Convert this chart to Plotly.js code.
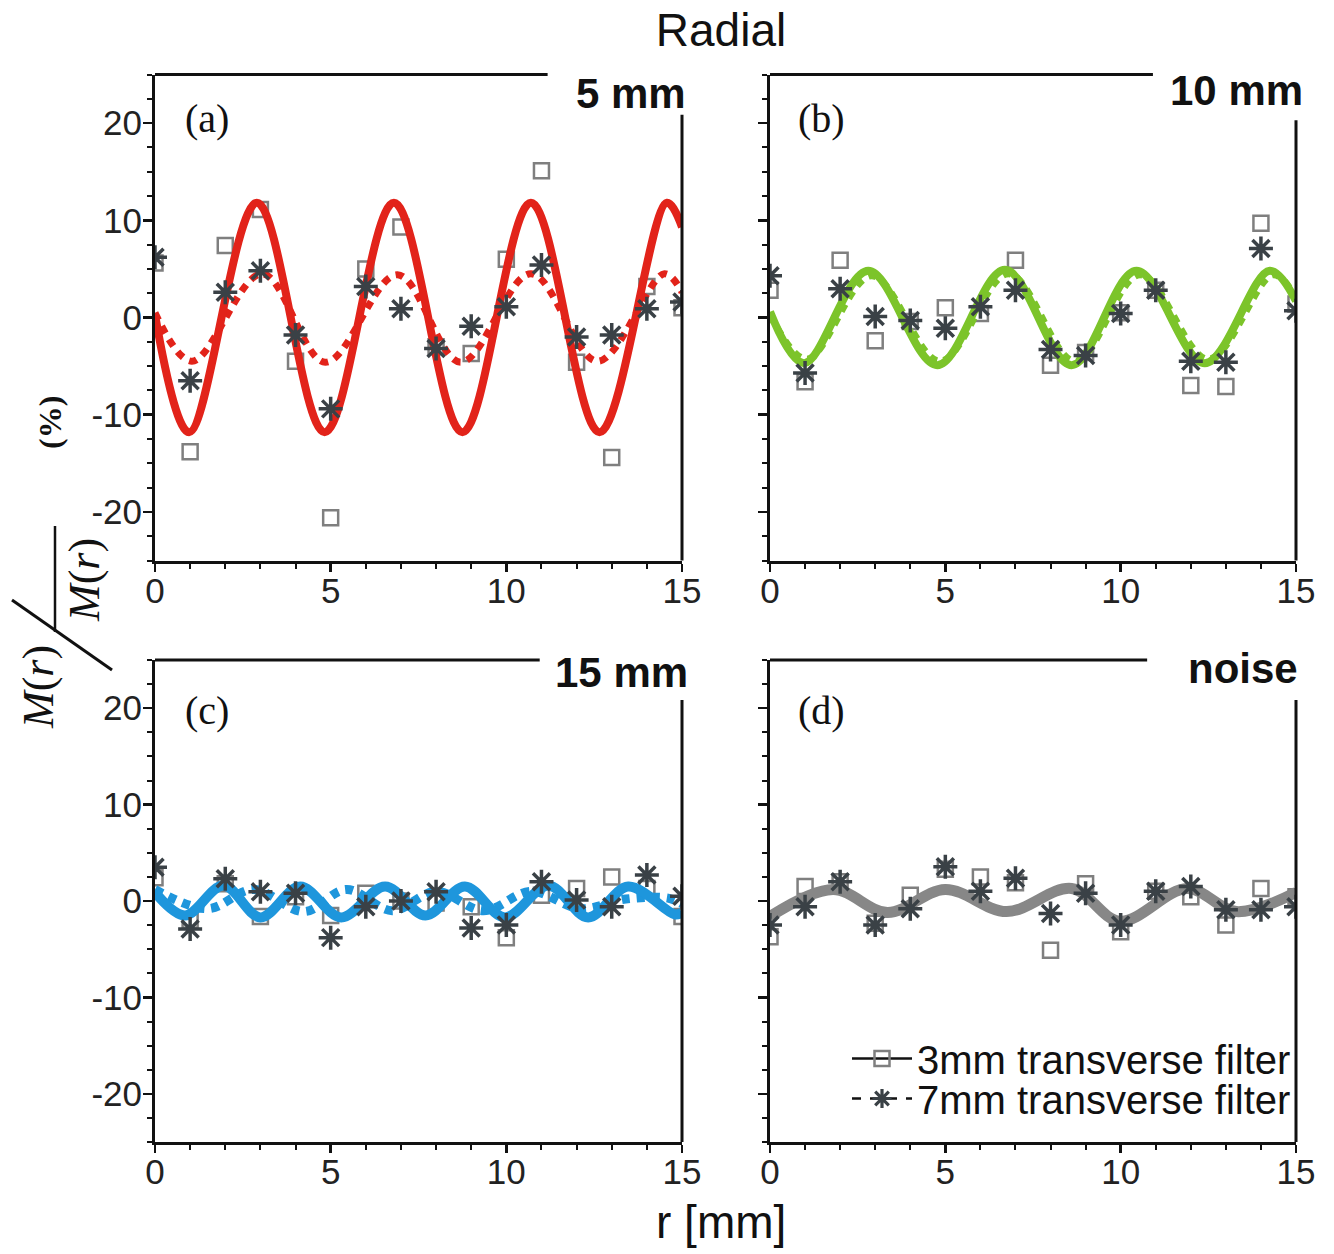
<!DOCTYPE html>
<html>
<head>
<meta charset="utf-8">
<script src="https://cdn.plot.ly/plotly-3.0.1.min.js"></script>
<style>html,body{margin:0;padding:0;background:#fff;}#chart{width:1334px;height:1254px;}</style>
</head>
<body>
<div id="chart"></div>
<script>
// ---- data ----
const r = [0,1,2,3,4,5,6,7,8,9,10,11,12,13,14,15];

// (a) 5 mm
const a3mm = [5.6,-13.8,7.4,11.1,-4.5,-20.6,5.0,9.3,-3.0,-3.7,6.0,15.1,-4.6,-14.4,3.2,1.0];
const a7mm = [6.2,-6.5,2.6,4.8,-1.8,-9.4,3.2,0.9,-3.2,-0.9,1.1,5.4,-2.0,-1.8,0.9,1.6];
const aSolidX = [0,0.97,2.9,4.83,6.8,8.75,10.7,12.65,14.57,15];
const aSolidY = [0.3,-11.8,11.8,-11.8,11.8,-11.8,11.8,-11.8,11.8,9.3];
const aDotX = [0,1.05,3.05,4.85,6.9,8.7,10.7,12.6,14.5,15];
const aDotY = [0.5,-4.5,4.5,-4.6,4.4,-4.6,4.5,-4.5,4.5,2.6];

// (b) 10 mm
const b3mm = [2.8,-6.6,5.9,-2.4,-0.4,1.0,0.4,5.9,-4.9,-3.6,0.5,2.8,-7.0,-7.1,9.7,1.4];
const b7mm = [4.3,-5.7,2.95,0.1,-0.3,-1.1,1.1,2.8,-3.3,-3.9,0.4,2.8,-4.5,-4.6,7.1,0.7];
const bSolidX = [0,0.97,2.8,4.77,6.7,8.6,10.45,12.4,14.25,15];
const bSolidY = [0.6,-4.7,4.8,-4.9,4.9,-4.9,4.8,-4.7,4.8,1.7];
const bDotX = [0,1.05,2.9,4.85,6.8,8.7,10.55,12.5,14.35,15];
const bDotY = [0.3,-4.3,4.3,-4.5,4.5,-4.5,4.4,-4.3,4.4,2.0];

// (c) 15 mm
const c3mm = [2.4,-2.0,1.8,-1.6,0.45,-1.5,0.8,0.0,-0.2,-0.6,-3.8,0.6,1.3,2.5,1.3,-1.6];
const c7mm = [3.5,-2.9,2.3,0.95,0.8,-3.8,-0.6,0.0,0.95,-2.8,-2.5,2.0,0.1,-0.6,2.7,0.5];
const cSolidX = [0,0.85,1.95,3.0,4.13,5.3,6.55,7.7,8.82,9.96,11.2,12.33,13.47,14.8,15];
const cSolidY = [0.9,-1.5,1.6,-1.7,1.5,-1.7,1.5,-1.5,1.5,-1.7,1.6,-1.7,1.5,-1.4,-1.2];
const cDotX = [0,1.5,2.8,4.25,5.45,6.75,8.0,9.35,10.7,12.1,13.4,14.6,15];
const cDotY = [1.2,-0.8,1.2,-1.1,1.2,-1.0,1.0,-1.0,1.0,-0.8,0.2,0.3,-0.3];

// (d) noise
const d3mm = [-3.7,1.5,2.0,-2.3,0.6,3.3,2.5,1.9,-5.1,1.8,-3.2,1.0,0.45,-2.5,1.3,0.45];
const d7mm = [-2.5,-0.6,2.0,-2.5,-0.8,3.55,1.0,2.35,-1.3,0.8,-2.5,1.0,1.5,-0.9,-0.9,-0.6];
const dSolidX = [0,1.8,3.35,5.0,6.75,8.6,9.98,11.9,13.3,15];
const dSolidY = [-1.6,1.2,-1.2,1.2,-1.1,1.3,-2.1,1.3,-1.1,0.9];

const yTickVals = [-20,-10,0,10,20];
const yTickText = ['-20','-10','0','10','20'];
const xTickVals = [0,5,10,15];
const xTickText = ['0','5','10','15'];
const legendNames = ['3mm transverse filter','7mm transverse filter'];
const panelTitles = ['5 mm','10 mm','15 mm','noise'];
const panelLetters = ['(a)','(b)','(c)','(d)'];

// ---- styling ----
const SANS = 'Liberation Sans, Arial, sans-serif';
const SERIF = 'Liberation Serif, Times New Roman, serif';
const SQ_COLOR = '#7f7f7f';
const ST_COLOR = '#3a4146';

const panels = [
  {xa:'x', ya:'y', p3:a3mm, p7:a7mm, solid:[aSolidX,aSolidY], dot:[aDotX,aDotY], color:'#e2231a', w:8},
  {xa:'x2', ya:'y2', p3:b3mm, p7:b7mm, solid:[bSolidX,bSolidY], dot:[bDotX,bDotY], color:'#7cc42a', w:8},
  {xa:'x3', ya:'y3', p3:c3mm, p7:c7mm, solid:[cSolidX,cSolidY], dot:[cDotX,cDotY], color:'#1e96dc', w:10},
  {xa:'x4', ya:'y4', p3:d3mm, p7:d7mm, solid:[dSolidX,dSolidY], dot:null, color:'#878787', w:11}
];

const traces = [];
panels.forEach(p => {
  traces.push({x:r, y:p.p3, xaxis:p.xa, yaxis:p.ya, mode:'markers', type:'scatter', showlegend:false,
    marker:{symbol:'square-open', size:15, color:SQ_COLOR, line:{color:SQ_COLOR, width:2.5}}});
  if (p.dot) traces.push({x:p.dot[0], y:p.dot[1], xaxis:p.xa, yaxis:p.ya, mode:'lines', type:'scatter', showlegend:false,
    line:{color:p.color, width:p.w-1, dash:'8px,7px', shape:'spline', smoothing:1}});
  traces.push({x:p.solid[0], y:p.solid[1], xaxis:p.xa, yaxis:p.ya, mode:'lines', type:'scatter', showlegend:false,
    line:{color:p.color, width:p.w, shape:'spline', smoothing:1}});
  traces.push({x:r, y:p.p7, xaxis:p.xa, yaxis:p.ya, mode:'markers', type:'scatter', showlegend:false,
    marker:{symbol:'asterisk-open', size:20, color:ST_COLOR, line:{color:ST_COLOR, width:3.5}}});
});
// legend-only entries
traces.push({x:[null], y:[null], xaxis:'x4', yaxis:'y4', mode:'lines+markers', type:'scatter', name:legendNames[0], legend:'legend',
  line:{color:'#111', width:2.5}, marker:{symbol:'square-open', size:15, color:SQ_COLOR, line:{color:SQ_COLOR, width:2.5}}});
traces.push({x:[null], y:[null], xaxis:'x4', yaxis:'y4', mode:'lines+markers', type:'scatter', name:legendNames[1], legend:'legend2',
  line:{color:'#111', width:2.5, dash:'dash'}, marker:{symbol:'asterisk-open', size:17, color:ST_COLOR, line:{color:ST_COLOR, width:3.2}}});

const W = 1334, H = 1254;
const px = v => v / W;
const py = v => 1 - v / H;

function xAxis(domain, anchor) {
  return {domain:domain, anchor:anchor, range:[0,15], tickmode:'array', tickvals:xTickVals, ticktext:xTickText,
    ticks:'outside', ticklen:8, tickwidth:2.5, tickcolor:'#111', ticklabelstandoff:-11,
    minor:{tickmode:'linear', tick0:0, dtick:1, ticks:'outside', ticklen:5, tickwidth:2, tickcolor:'#111', showgrid:false},
    showline:true, linewidth:3, linecolor:'#111', mirror:false, showgrid:false, zeroline:false,
    tickfont:{family:SANS, size:35, color:'#222'}, fixedrange:true};
}
function yAxis(domain, anchor, labels) {
  return {domain:domain, anchor:anchor, range:[-25,25], tickmode:'array', tickvals:yTickVals, ticktext:yTickText,
    showticklabels:labels, ticks:'outside', ticklen:9, tickwidth:2.5, tickcolor:'#111', ticklabelstandoff:-6,
    minor:{tickmode:'linear', tick0:0, dtick:2.5, ticks:'outside', ticklen:5, tickwidth:2, tickcolor:'#111', showgrid:false},
    showline:true, linewidth:3, linecolor:'#111', mirror:false, showgrid:false, zeroline:false,
    tickfont:{family:SANS, size:35, color:'#222'}, fixedrange:true};
}

const xL = [px(155), px(682)], xR = [px(770), px(1296)];
const yT = [py(560.5), py(74.5)], yB = [py(1142), py(660)];

// frame segments (top & right) broken by the panel title
const frames = [
  {xr:'x domain', yr:'y domain', topEnd:0.745, rightTop:0.917},
  {xr:'x2 domain', yr:'y2 domain', topEnd:0.728, rightTop:0.906},
  {xr:'x3 domain', yr:'y3 domain', topEnd:0.73, rightTop:0.917},
  {xr:'x4 domain', yr:'y4 domain', topEnd:0.717, rightTop:0.917}
];
const shapes = [];
frames.forEach(f => {
  shapes.push({type:'line', xref:f.xr, yref:f.yr, x0:0, x1:f.topEnd, y0:1, y1:1, line:{color:'#111', width:3}});
  shapes.push({type:'line', xref:f.xr, yref:f.yr, x0:1, x1:1, y0:0, y1:f.rightTop, line:{color:'#111', width:3}});
});
// y-label fraction decorations (slash and overline)
shapes.push({type:'line', xref:'paper', yref:'paper', x0:px(12), y0:py(600), x1:px(112), y1:py(670), line:{color:'#111', width:3}});
shapes.push({type:'line', xref:'paper', yref:'paper', x0:px(55), y0:py(526), x1:px(55), y1:py(632), line:{color:'#111', width:2.5}});

const annotations = [];
const titlePos = [[688,93],[1305,91],[690,672],[1300,668]];
const letterPos = [[207,118],[822,118],[207,710],[822,710]];
panelTitles.forEach((t,i) => {
  annotations.push({text:'<b>'+t+'</b>', xref:'paper', yref:'paper', x:px(titlePos[i][0]), y:py(titlePos[i][1]),
    xanchor:'right', yanchor:'middle', showarrow:false, font:{family:SANS, size:42, color:'#111'}});
  annotations.push({text:panelLetters[i], xref:'paper', yref:'paper', x:px(letterPos[i][0]), y:py(letterPos[i][1]),
    xanchor:'center', yanchor:'middle', showarrow:false, font:{family:SERIF, size:40, color:'#111'}});
});
annotations.push({text:'r [mm]', xref:'paper', yref:'paper', x:px(721), y:py(1222), xanchor:'center', yanchor:'middle',
  showarrow:false, font:{family:SANS, size:46, color:'#111'}});
annotations.push({text:'<b>(%)</b>', xref:'paper', yref:'paper', x:px(50), y:py(423), xanchor:'center', yanchor:'middle',
  textangle:-90, showarrow:false, font:{family:SERIF, size:32, color:'#111'}});
annotations.push({text:'<i>M</i>(<i>r</i>)', xref:'paper', yref:'paper', x:px(38), y:py(687), xanchor:'center', yanchor:'middle',
  textangle:-90, showarrow:false, font:{family:SERIF, size:44, color:'#111'}});
annotations.push({text:'<i>M</i>(<i>r</i>)', xref:'paper', yref:'paper', x:px(84), y:py(580), xanchor:'center', yanchor:'middle',
  textangle:-90, showarrow:false, font:{family:SERIF, size:44, color:'#111'}});

const legendStyle = (yTop) => ({x:px(1296), xanchor:'right', y:py(yTop), yanchor:'top', bgcolor:'rgba(0,0,0,0)',
  font:{family:SANS, size:40, color:'#111'}, itemwidth:60, borderwidth:0});

const layout = {
  width:W, height:H, margin:{l:0, r:0, t:0, b:0},
  paper_bgcolor:'#fff', plot_bgcolor:'#fff',
  title:{text:'Radial', x:px(721), xanchor:'center', y:py(30), yanchor:'middle', font:{family:SANS, size:46, color:'#111'}},
  xaxis:xAxis(xL,'y'), yaxis:yAxis(yT,'x',true),
  xaxis2:xAxis(xR,'y2'), yaxis2:yAxis(yT,'x2',false),
  xaxis3:xAxis(xL,'y3'), yaxis3:yAxis(yB,'x3',true),
  xaxis4:xAxis(xR,'y4'), yaxis4:yAxis(yB,'x4',false),
  showlegend:true,
  legend:legendStyle(1026),
  legend2:legendStyle(1066),
  shapes:shapes, annotations:annotations, hovermode:false
};

Plotly.newPlot('chart', traces, layout, {displayModeBar:false, staticPlot:true});
</script>
</body>
</html>
